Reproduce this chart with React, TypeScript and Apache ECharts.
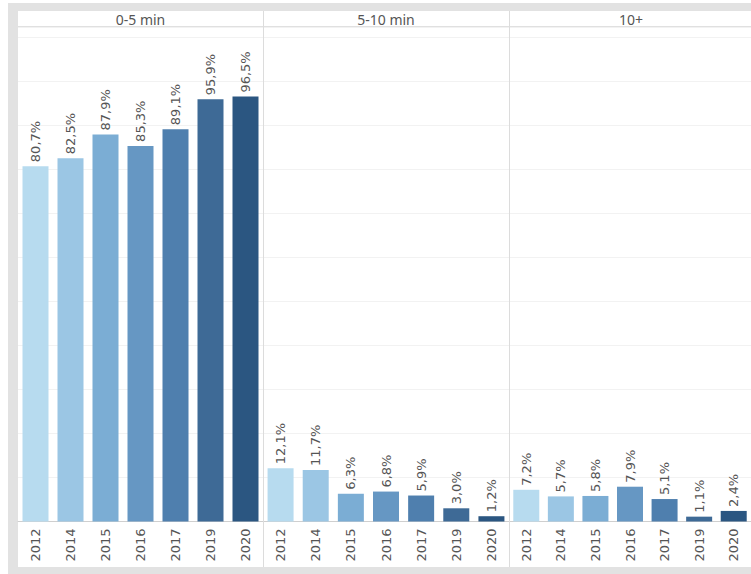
import React, { useEffect, useRef } from "react";
import * as echarts from "echarts";

const years = ["2012", "2014", "2015", "2016", "2017", "2019", "2020"];
const panels = ["0-5 min", "5-10 min", "10+"];
const values0to5 = [80.7, 82.5, 87.9, 85.3, 89.1, 95.9, 96.5];
const values5to10 = [12.1, 11.7, 6.3, 6.8, 5.9, 3.0, 1.2];
const values10plus = [7.2, 5.7, 5.8, 7.9, 5.1, 1.1, 2.4];
const yearColors = ["#b7dbef", "#9bc6e4", "#7badd4", "#6697c3", "#4f7fae", "#3e6a96", "#2b5681"];

const panelValues = [values0to5, values5to10, values10plus];

const GRID_TOP = 27;
const GRID_H = 494.5;
const Y_MAX = 112.3;
const grids = [
  { left: 18, width: 245 },
  { left: 263, width: 246 },
  { left: 509, width: 245 },
];

export default function App() {
  const ref = useRef<HTMLDivElement>(null);
  useEffect(() => {
    if (!ref.current) return;
    const chart = echarts.init(ref.current, undefined, { renderer: "svg" });
    const fmt = (v: number) => v.toFixed(1).replace(".", ",") + "%";
    const option: any = {
      animation: false,
      backgroundColor: "#ffffff",
      grid: grids.map((g) => ({ left: g.left, width: g.width, top: GRID_TOP, height: GRID_H })),
      xAxis: grids.map((_, i) => ({
        type: "category",
        gridIndex: i,
        data: years,
        axisLine: { show: true, lineStyle: { color: "#cfcfcf", width: 1 } },
        axisTick: { show: false },
        axisLabel: {
          rotate: 90,
          margin: 7,
          color: "#555555",
          fontFamily: "DejaVu Sans",
          fontSize: 13,
        },
      })),
      yAxis: grids.map((_, i) => ({
        type: "value",
        gridIndex: i,
        min: 0,
        max: Y_MAX,
        interval: 10,
        axisLine: { show: false },
        axisTick: { show: false },
        axisLabel: { show: false },
        splitLine: { show: true, lineStyle: { color: "#f2f2f2", width: 1 } },
      })),
      series: panelValues.map((vals, i) => ({
        type: "bar",
        xAxisIndex: i,
        yAxisIndex: i,
        barWidth: 26,
        data: vals.map((v, j) => ({ value: v, itemStyle: { color: yearColors[j] } })),
        label: {
          show: true,
          position: "top",
          rotate: 90,
          align: "left",
          verticalAlign: "middle",
          distance: 4,
          color: "#555555",
          fontFamily: "DejaVu Sans",
          fontSize: 13,
          formatter: (p: any) => fmt(p.value),
        },
      })),
      graphic: [
        { type: "rect", z: -10, silent: true, shape: { x: 8, y: 3, width: 743, height: 571 }, style: { fill: "#e2e2e2" } },
        { type: "rect", z: -9, silent: true, shape: { x: 18, y: 11, width: 733, height: 556 }, style: { fill: "#ffffff" } },
        { type: "line", z: 10, silent: true, shape: { x1: 18, y1: 26.5, x2: 751, y2: 26.5 }, style: { stroke: "#e0e0e0", lineWidth: 1 } },
        { type: "line", z: 10, silent: true, shape: { x1: 263.5, y1: 11, x2: 263.5, y2: 567 }, style: { stroke: "#dcdcdc", lineWidth: 1 } },
        { type: "line", z: 10, silent: true, shape: { x1: 509.5, y1: 11, x2: 509.5, y2: 567 }, style: { stroke: "#dcdcdc", lineWidth: 1 } },
        ...panels.map((name, i) => ({
          type: "text",
          z: 10,
          silent: true,
          x: i === 2 ? 631 : grids[i].left + grids[i].width / 2,
          y: 19.5,
          style: {
            text: name,
            fill: "#555555",
            fontFamily: "Noto Sans",
            fontSize: 14,
            align: "center",
            verticalAlign: "middle",
          },
        })),
      ],
    };
    chart.setOption(option);
    return () => chart.dispose();
  }, []);
  return (
    <div
      ref={ref}
      style={{ position: "fixed", left: 0, top: 0, width: 751, height: 574 }}
    />
  );
}
